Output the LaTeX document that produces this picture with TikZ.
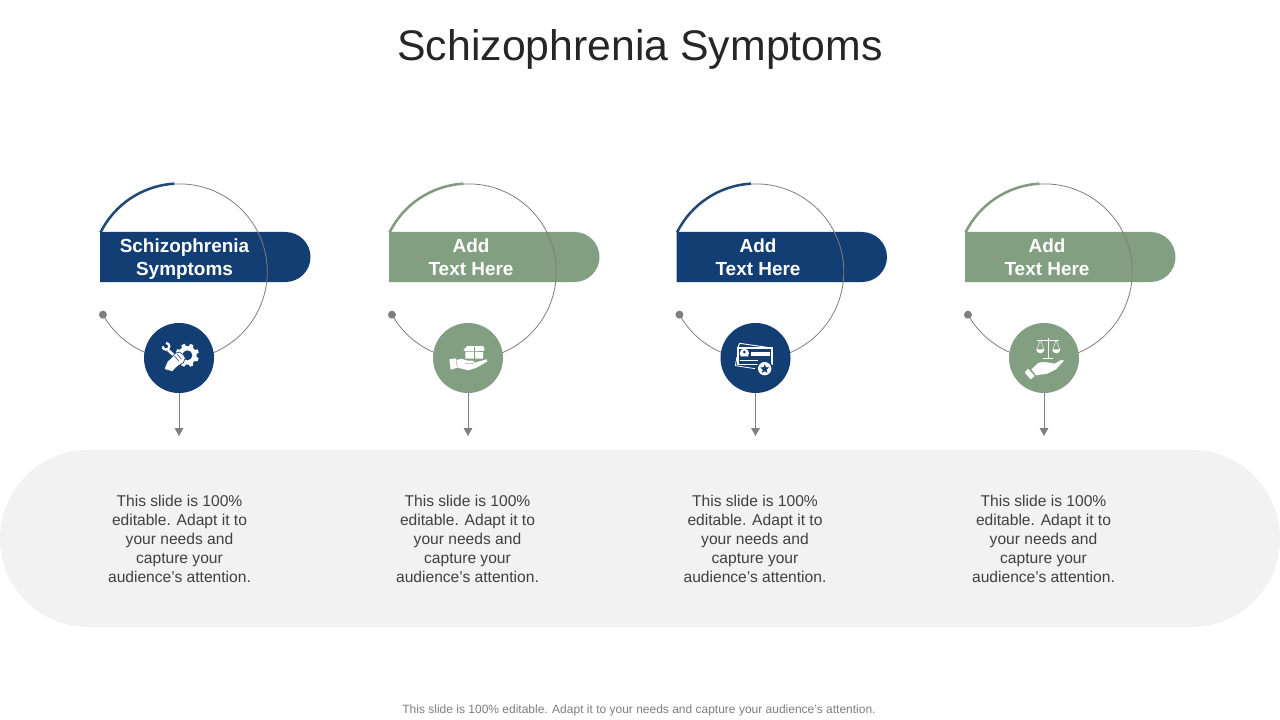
\documentclass[tikz,border=0pt]{standalone}
\usepackage{fontspec}
\setmainfont{Liberation Sans}
\definecolor{navy}{HTML}{123E73}
\definecolor{sage}{HTML}{829F82}
\definecolor{band}{HTML}{F2F2F2}
\definecolor{linegrey}{HTML}{7F7F7F}
\tikzset{
  titletext/.style={font=\fontsize{32.1}{36}\selectfont,text=black!85,inner sep=0pt},
  labeltext/.style={font=\fontsize{14.2}{17.25}\selectfont\bfseries,text=white,align=center,inner sep=0pt,anchor=north},
  bodytext/.style={font=\fontsize{11.7}{14.25}\selectfont,text=black!75,align=center,inner sep=0pt},
  foottext/.style={font=\fontsize{9}{10}\selectfont,text=linegrey,inner sep=0pt},
  iconcirc/.style={circle,minimum size=52.5pt,inner sep=0pt},
  enddot/.style={circle,fill=linegrey,minimum size=6pt,inner sep=0pt},
  ringline/.style={draw=linegrey,line width=0.6pt},
  zoomframe/.style={x=0.25pt,y=-0.25pt},
}
\newcommand{\symcol}[6]{%
  \coordinate (ctr#1) at (179.5+#2,271.7);
  \fill[#3] (100+#2,232) -- (285.5+#2,232) arc[start angle=-90,end angle=90,radius=25] -- (100+#2,282) -- cycle;
  \draw[line width=1.9pt,draw=#3!85!gray] (ctr#1) ++(-153.6:88.2) arc[start angle=-153.6,end angle=-93.3,radius=88.2];
  \node[enddot] (dot#1) at ($(ctr#1)+(150.7:87.8)$) {};
  \draw[ringline] (dot#1.center) arc[start angle=150.7,end angle=-93.3,radius=87.8];
  \node[labeltext] (label#1) at (#5,238.5) {#4};
  \node[iconcirc,fill=#3] (icon#1) at (179+#2,358) {};
  \coordinate (tip#1) at (icon#1.south|-0,436);
  \draw[draw=linegrey,line width=0.75pt,-{Triangle[length=6pt,width=6.5pt]}] (icon#1.south) -- (tip#1);
  \node[bodytext] (body#1) at (#6,539) {This slide is 100\%\\editable. Adapt it to\\your needs and\\capture your\\audience's attention.};
}
\usetikzlibrary{calc,arrows.meta}
\begin{document}
\begin{tikzpicture}[x=0.75pt,y=-0.75pt]
\useasboundingbox (0,0) rectangle (1280,720);
\fill[white] (0,0) rectangle (1280,720);
\node[titletext] (title) at (640,49) {Schizophrenia Symptoms};
\fill[band] (88.5,450) -- (1191.5,450) arc[start angle=-90,end angle=90,radius=88.5] -- (88.5,627) arc[start angle=90,end angle=270,radius=88.5] -- cycle;
\symcol{a}{0}{navy}{Schizophrenia\\Symptoms}{184.5}{179.5}
\symcol{b}{289}{sage}{Add\\Text Here}{471}{467.5}
\symcol{c}{576.5}{navy}{Add\\Text Here}{758}{755}
\symcol{d}{865}{sage}{Add\\Text Here}{1047}{1043.5}
\node[foottext] (foot) at (639,710) {This slide is 100\% editable. Adapt it to your needs and capture your audience's attention.};

% icon a: gear, fist, wrench
\begin{scope}[shift={(140,320)},zoomframe]
  \fill[white] (142,106) circle (28);
  \foreach \a in {0,45,...,315}{
    \fill[white,shift={(142,106)},rotate=\a+22] (26,-7) -- (35,-5) -- (35,5) -- (26,7) -- cycle;
  }
  \fill[navy] (142,106) circle (15);
  \draw[white,line width=1.7pt] (78,69) arc[start angle=-90,end angle=180,radius=10];
  \draw[white,line width=2pt] (84,90) -- (106,110);
  \fill[white,draw=navy,line width=0.5pt] (72,148) -- (82,124) -- (94,113) -- (106,100) -- (118,96) -- (130,104) -- (136,114) -- (130,128) -- (116,137) -- (106,145) -- (98,155) -- cycle;
  \draw[navy,line width=0.4pt] (104,108) -- (117,124) (112,103) -- (124,118);
\end{scope}

% icon b: box on hand
\begin{scope}[shift={(428,320)},zoomframe]
  \fill[white] (118,78) -- (166,78) -- (170,90) -- (165,93) -- (165,116) -- (112,116) -- (112,93) -- (106,90) -- cycle;
  \draw[sage,line width=0.3pt] (139,80) -- (139,116) (112,93) -- (139,93) -- (165,93);
  \fill[white] (64,118) -- (82,115) -- (86,120) -- (100,116) -- (118,122) -- (134,122) -- (140,128) -- (176,118) -- (178,124) -- (146,143) -- (122,151) -- (88,143) -- (68,149) -- cycle;
  \draw[sage,line width=0.3pt] (84,120) -- (88,143) (112,130) -- (136,131);
\end{scope}

% icon c: cards and badge
\begin{scope}[shift={(715,320)},zoomframe]
  \draw[white,line width=0.7pt] (68,84) -- (74,70) -- (170,84);
  \fill[white] (66,82) rectangle (174,136);
  \fill[navy] (71,87) rectangle (169,131);
  \fill[white] (88,100) circle (14);
  \fill[navy] (88,96) circle (4.5);
  \fill[navy] (79,109) arc[start angle=180,end angle=0,radius=9] -- cycle;
  \fill[white] (108,95) rectangle (166,109);
  \draw[white,line width=0.6pt] (74,122) -- (128,122);
  \draw[white,line width=0.6pt] (66,110) -- (61,137) -- (120,146);
  \fill[navy] (149,146) circle (25);
  \fill[white] (149,146) circle (20);
  \fill[navy] (149,133) -- (152.5,141.5) -- (162,142.5) -- (155,149) -- (157,158.5) -- (149,153.5) -- (141,158.5) -- (143,149) -- (136,142.5) -- (145.5,141.5) -- cycle;
\end{scope}

% icon d: balance on hand
\begin{scope}[shift={(1004,320)},zoomframe]
  \draw[white,line width=0.7pt] (132,53) -- (132,113) (118,115) -- (146,115) (100,60) -- (165,60);
  \draw[white,line width=0.35pt] (109,60) -- (98,90) (109,60) -- (120,90) (156,60) -- (146,90) (156,60) -- (168,90);
  \fill[white] (97,88) arc[start angle=180,end angle=0,radius=12] -- cycle;
  \fill[white] (145,88) arc[start angle=180,end angle=0,radius=12] -- cycle;
  \fill[white] (62,158) -- (72,146) -- (92,168) -- (80,178) -- cycle;
  \fill[white] (82,148) -- (104,128) -- (120,126) -- (148,130) -- (150,136) -- (134,140) -- (172,120) -- (180,122) -- (156,148) -- (130,161) -- (96,166) -- cycle;
\end{scope}
\end{tikzpicture}
\end{document}
